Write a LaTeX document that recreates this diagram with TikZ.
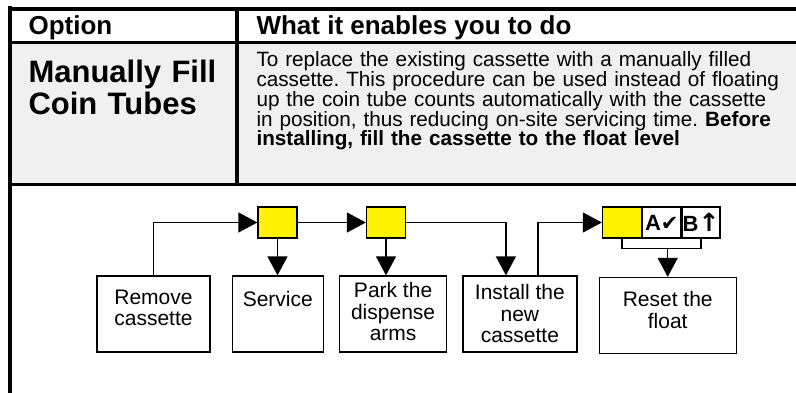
\documentclass[tikz,border=0pt]{standalone}
\usepackage{fontspec}
\setmainfont{Liberation Sans}
\newfontfamily\symfont{DejaVu Sans}
\usetikzlibrary{arrows.meta,positioning}

\definecolor{cellgrey}{HTML}{F0F0F0}
\setlength{\lineskiplimit}{-10pt}
\frenchspacing
\newcommand{\boxlines}[3]{\parbox[t][76pt][t]{#1}{\centering\vspace*{#2}#3}}

\begin{document}
\begin{tikzpicture}[x=1pt, y=-1pt,
    stepbox/.style={draw, line width=1.3pt, inner sep=0pt,
                    font=\fontsize{21}{21.5}\selectfont},
    slot/.style={draw, line width=1.3pt, fill=yellow, inner sep=0pt,
                 minimum width=39pt, minimum height=31pt},
    checkcell/.style={draw, line width=1.3pt, inner sep=0pt,
                 minimum width=38pt, minimum height=31pt,
                 font=\fontsize{22}{22}\selectfont\bfseries},
    flow/.style={line width=1.3pt, -{Triangle[length=19pt,width=20pt]}},
    headtext/.style={anchor=base west, font=\fontsize{26}{30}\selectfont\bfseries}
]
\useasboundingbox (0,0) rectangle (796,393);

% table
\fill[cellgrey] (10,42.7) rectangle (796,184.2);
\draw[line width=3.7pt] (8,9.2) -- (796,9.2);
\draw[line width=4pt] (10,6) -- (10,393);
\draw[line width=3.3pt] (10,42.7) -- (796,42.7);
\draw[line width=3pt] (10,184.2) -- (796,184.2);
\draw[line width=3.3pt] (237,9) -- (237,184.2);

\node[headtext] (opthead) at (25,35) {Option};
\node[headtext] (whathead) at (253,35) {What it enables you to do};

\node[anchor=base west, text width=205pt, align=left,
      font=\fontsize{31}{32}\selectfont\bfseries] (optname) at (25,83)
    {Manually Fill\\Coin Tubes};
\node[anchor=base west, text width=540pt, align=left,
      font=\fontsize{20.7}{19.7}\selectfont] (optdesc) at (253,67)
    {To replace the existing cassette with a manually filled\\
     cassette. This procedure can be used instead of floating\\
     up the coin tube counts automatically with the cassette\\
     in position, thus reducing on-site servicing time. \textbf{Before}\\
     \textbf{installing, fill the cassette to the float level}};

% steps
\node[stepbox] (remove) at (153.5,314) {\boxlines{113pt}{14pt}{Remove\\cassette}};
\node[stepbox, right=21pt of remove] (service) {\boxlines{91pt}{15.5pt}{Service}};
\node[stepbox, right=15pt of service] (park) {\boxlines{107pt}{6.7pt}{Park the\\dispense\\arms}};
\node[stepbox, right=15pt of park] (install) {\boxlines{114pt}{8.7pt}{Install the\\new\\cassette}};
\node[stepbox, right=21pt of install, yshift=-1.5pt] (reset) {\boxlines{137pt}{14pt}{Reset the\\float}};

\node[slot] (slota) at (277.5,222.5) {};
\node[slot] (slotb) at (386,222.5) {};
\node[slot] (slotc) at (622,222.5) {};
\node[checkcell, right=0pt of slotc] (acell) {A{\symfont\fontsize{21}{22}\selectfont ✔}};
\node[checkcell, right=0pt of acell] (bcell) {B{\symfont\bfseries\fontsize{25}{22}\selectfont ↑}};

\draw[flow] (remove.north) |- (slota.west);
\draw[flow] (slota.east) -- (slotb.west);
\draw[flow] (slota.south) -- (slota.south |- service.north);
\draw[flow] (slotb.south) -- (slotb.south |- park.north);
\draw[flow] (slotb.east) -| ([xshift=-14pt]install.north);
\draw[flow] ([xshift=18pt]install.north) |- (slotc.west);
\draw[line width=1.3pt] (slotc.south) -- ++(0,10) coordinate (fork) -| (bcell.south);
\draw[flow] (fork -| reset.north) -- (reset.north);

\end{tikzpicture}
\end{document}
